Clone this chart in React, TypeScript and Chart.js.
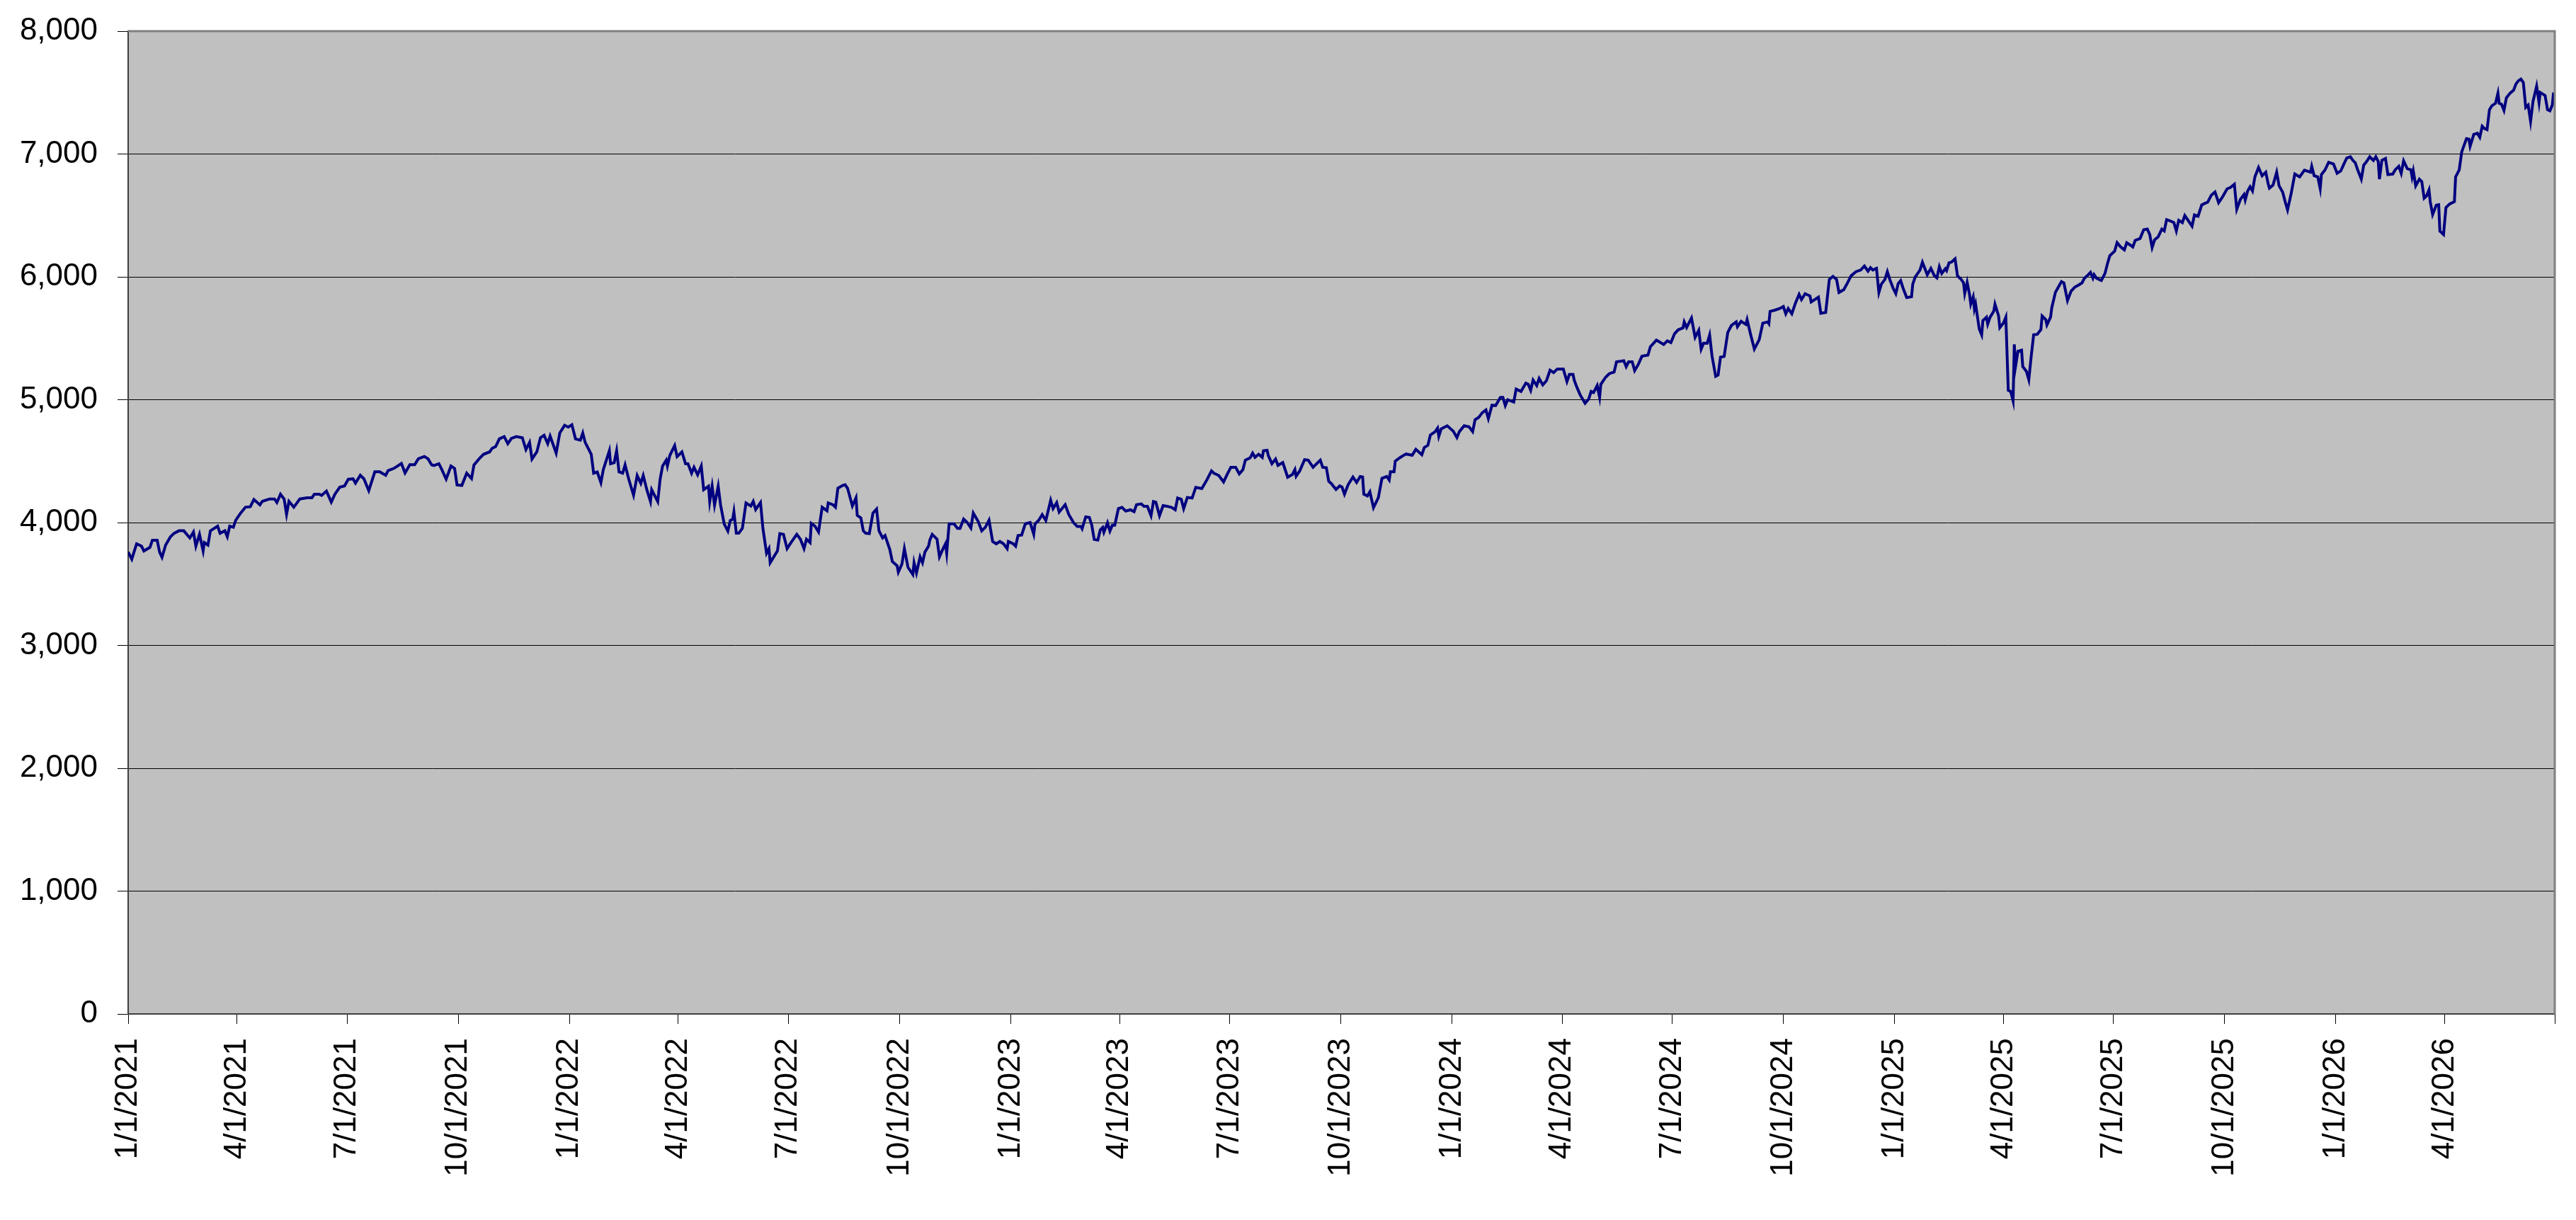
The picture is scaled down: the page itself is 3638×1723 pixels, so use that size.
import React, { useEffect, useRef } from "react";
import { Chart, registerables } from "chart.js";

Chart.register(...registerables);

const FONT = "'Liberation Sans', Arial, Helvetica, sans-serif";

// closing values, dates as "MM-DD" inside each year
const days2021 = [
  "01-01", "01-04", "01-08", "01-12", "01-14", "01-19", "01-21", "01-25", "01-27", "01-29",
  "02-01", "02-05", "02-08", "02-12", "02-16", "02-21", "02-24", "02-26",
  "03-01", "03-04", "03-05", "03-08", "03-10", "03-16", "03-18", "03-22", "03-24", "03-26", "03-29", "03-31",
  "04-04", "04-08", "04-12", "04-15", "04-20", "04-22", "04-28",
  "05-02", "05-04", "05-07", "05-10", "05-12", "05-14", "05-18", "05-23", "05-29",
  "06-02", "06-04", "06-08", "06-10", "06-14", "06-18", "06-21", "06-25", "06-29",
  "07-02", "07-06", "07-08", "07-12", "07-15", "07-19", "07-24", "07-28",
  "08-02", "08-04", "08-09", "08-15", "08-18", "08-22", "08-26", "08-29",
  "09-03", "09-06", "09-09", "09-11", "09-15", "09-17", "09-21", "09-25", "09-28", "09-30",
  "10-04", "10-08", "10-12", "10-14", "10-19", "10-22", "10-27", "10-29",
  "11-01", "11-04", "11-08", "11-11", "11-14", "11-18", "11-23", "11-26", "11-29",
  "12-01", "12-05", "12-08", "12-11", "12-14", "12-16", "12-21", "12-24", "12-28", "12-31",
];
const close2021 = [
  3760, 3702, 3827, 3808, 3769, 3798, 3856, 3856, 3760, 3717,
  3817, 3885, 3913, 3933, 3933, 3875, 3923, 3808,
  3904, 3769, 3837, 3817, 3933, 3971, 3913, 3933, 3885, 3971, 3962, 4019,
  4077, 4125, 4129, 4187, 4144, 4173, 4192,
  4192, 4163, 4231, 4192, 4067, 4173, 4125, 4192, 4202,
  4202, 4231, 4231, 4221, 4256, 4167, 4231, 4288, 4298,
  4352, 4356, 4321, 4385, 4356, 4260, 4413, 4413,
  4385, 4423, 4442, 4481, 4404, 4471, 4471, 4519,
  4538, 4519, 4470, 4465, 4479, 4440, 4354, 4460, 4440, 4306,
  4302, 4402, 4358, 4469, 4527, 4556, 4575, 4604,
  4619, 4681, 4700, 4642, 4685, 4700, 4690, 4594, 4652,
  4517, 4575, 4690, 4710, 4642, 4704, 4565, 4729, 4792, 4777,
];

const days2022 = [
  "01-03", "01-06", "01-10", "01-12", "01-14", "01-19", "01-21", "01-24", "01-27", "01-29",
  "02-03", "02-04", "02-07", "02-09", "02-11", "02-14", "02-16", "02-19", "02-23", "02-26",
  "03-01", "03-03", "03-06", "03-09", "03-10", "03-15", "03-17", "03-19", "03-22", "03-23", "03-25", "03-29", "03-31",
  "04-04", "04-07", "04-09", "04-12", "04-14", "04-17", "04-20", "04-22", "04-26", "04-27", "04-29",
  "05-01", "05-04", "05-06", "05-09", "05-12", "05-14", "05-16", "05-17", "05-19", "05-21", "05-24", "05-27", "05-31",
  "06-02", "06-04", "06-08", "06-10", "06-13", "06-15", "06-16", "06-19", "06-22", "06-24", "06-27", "06-30",
  "07-03", "07-08", "07-11", "07-14", "07-16", "07-19", "07-20", "07-23", "07-26", "07-29",
  "08-02", "08-03", "08-07", "08-09", "08-11", "08-15", "08-17", "08-19", "08-23", "08-26", "08-27", "08-30",
  "09-01", "09-03", "09-06", "09-09", "09-12", "09-14", "09-17", "09-19", "09-23", "09-25", "09-29", "09-30",
  "10-03", "10-05", "10-08", "10-12", "10-13", "10-15", "10-18", "10-20", "10-22", "10-25", "10-26", "10-28",
  "11-01", "11-03", "11-06", "11-08", "11-09", "11-11", "11-15", "11-18", "11-20", "11-23", "11-26", "11-29",
  "12-01", "12-05", "12-08", "12-11", "12-14", "12-17", "12-20", "12-23", "12-26", "12-29", "12-30",
];
const close2022 = [
  4796, 4681, 4671, 4729, 4652, 4556, 4402, 4412, 4325, 4431,
  4585, 4479, 4488, 4585, 4412, 4402, 4469, 4354, 4223, 4383,
  4319, 4383, 4267, 4171, 4267, 4171, 4354, 4460, 4508, 4460, 4546, 4627, 4537,
  4575, 4479, 4479, 4402, 4450, 4388, 4460, 4267, 4296, 4171, 4296,
  4142, 4296, 4142, 3988, 3931, 4017, 4027, 4087, 3913, 3913, 3952, 4160, 4135,
  4173, 4106, 4163, 3952, 3750, 3788, 3673, 3721, 3769, 3910, 3904, 3788,
  3833, 3904, 3865, 3788, 3865, 3837, 3994, 3971, 3923, 4125,
  4096, 4160, 4144, 4125, 4279, 4302, 4308, 4279, 4135, 4202, 4058, 4038,
  3933, 3913, 3910, 4077, 4110, 3933, 3875, 3894, 3779, 3683, 3648, 3596,
  3663, 3788, 3635, 3577, 3673, 3590, 3721, 3673, 3760, 3808, 3856, 3904,
  3865, 3721, 3788, 3827, 3750, 3990, 3990, 3952, 3952, 4029, 4000, 3956,
  4077, 4010, 3933, 3962, 4019, 3846, 3827, 3846, 3827, 3788, 3846,
];

const days2023 = [
  "01-03", "01-05", "01-07", "01-10", "01-13", "01-17", "01-20", "01-21", "01-24", "01-27", "01-30",
  "02-03", "02-05", "02-08", "02-10", "02-15", "02-18", "02-22", "02-25", "02-28",
  "03-01", "03-04", "03-07", "03-09", "03-11", "03-14", "03-16", "03-18", "03-19", "03-22", "03-24", "03-26", "03-28", "03-31",
  "04-03", "04-06", "04-10", "04-13", "04-15", "04-19", "04-21", "04-24", "04-27", "04-29",
  "05-01", "05-04", "05-07", "05-10", "05-14", "05-17", "05-19", "05-22", "05-24", "05-27", "05-31",
  "06-03", "06-08", "06-12", "06-16", "06-18", "06-22", "06-26", "06-29",
  "07-02", "07-06", "07-09", "07-12", "07-14", "07-18", "07-20", "07-22", "07-25", "07-28", "07-29",
  "08-01", "08-02", "08-05", "08-08", "08-10", "08-14", "08-18", "08-22", "08-24", "08-25", "08-28",
  "09-01", "09-04", "09-08", "09-11", "09-14", "09-16", "09-19", "09-21", "09-23", "09-27", "09-30",
  "10-02", "10-04", "10-07", "10-11", "10-14", "10-17", "10-19", "10-20", "10-23", "10-25", "10-28",
  "11-01", "11-04", "11-08", "11-10", "11-11", "11-14", "11-15", "11-19", "11-22", "11-24", "11-29",
  "12-02", "12-07", "12-09", "12-12", "12-14", "12-18", "12-20", "12-21", "12-23", "12-28",
];
const close2023 = [
  3827, 3808, 3894, 3898, 3990, 4000, 3904, 3988, 4017, 4065, 4017,
  4181, 4113, 4162, 4085, 4146, 4065, 3998, 3969, 3969,
  3950, 4046, 4042, 3979, 3863, 3858, 3940, 3960, 3921, 3998, 3931, 3979, 3979, 4113,
  4123, 4094, 4104, 4088, 4146, 4152, 4133, 4133, 4056, 4171,
  4165, 4056, 4138, 4133, 4123, 4104, 4200, 4190, 4113, 4204, 4200,
  4287, 4277, 4344, 4421, 4402, 4383, 4331, 4392,
  4450, 4450, 4396, 4431, 4508, 4527, 4565, 4531, 4556, 4531, 4585,
  4588, 4546, 4479, 4517, 4465, 4488, 4369, 4392, 4431, 4377, 4421,
  4512, 4508, 4450, 4479, 4508, 4450, 4446, 4335, 4319, 4269, 4298,
  4288, 4231, 4308, 4371, 4327, 4375, 4371, 4231, 4217, 4250, 4121,
  4202, 4360, 4375, 4346, 4413, 4413, 4500, 4529, 4548, 4558, 4548,
  4596, 4552, 4610, 4629, 4712, 4740, 4769, 4702, 4763, 4788,
];

const days2024 = [
  "01-02", "01-05", "01-07", "01-11", "01-15", "01-18", "01-20", "01-23", "01-26", "01-29", "01-31",
  "02-03", "02-06", "02-10", "02-12", "02-14", "02-16", "02-21", "02-23", "02-27",
  "03-02", "03-04", "03-06", "03-08", "03-11", "03-13", "03-16", "03-19", "03-22", "03-25", "03-28",
  "04-02", "04-05", "04-07", "04-10", "04-11", "04-13", "04-16", "04-20", "04-23", "04-25", "04-27", "04-30",
  "05-02", "05-03", "05-07", "05-10", "05-14", "05-16", "05-22", "05-24", "05-26", "05-29", "05-31",
  "06-03", "06-06", "06-11", "06-13", "06-18", "06-24", "06-27", "06-30",
  "07-03", "07-06", "07-10", "07-11", "07-13", "07-17", "07-20", "07-23", "07-25", "07-27", "07-30",
  "08-01", "08-03", "08-06", "08-08", "08-10", "08-13", "08-16", "08-19", "08-23", "08-24", "08-27", "08-31",
  "09-01", "09-04", "09-07", "09-09", "09-11", "09-14", "09-18", "09-19", "09-20", "09-24", "09-28",
  "10-01", "10-03", "10-05", "10-08", "10-11", "10-14", "10-16", "10-19", "10-23", "10-24", "10-30",
  "11-01", "11-05", "11-08", "11-11", "11-14", "11-16", "11-20", "11-23", "11-26", "11-30",
  "12-04", "12-07", "12-10", "12-12", "12-14", "12-17", "12-19", "12-21", "12-24", "12-26", "12-28", "12-31",
];
const close2024 = [
  4744, 4692, 4740, 4788, 4779, 4740, 4837, 4856, 4894, 4917, 4846,
  4956, 4952, 5019, 5019, 4952, 5000, 4981, 5087, 5067,
  5135, 5125, 5077, 5160, 5115, 5173, 5121, 5154, 5240, 5221, 5250,
  5250, 5148, 5206, 5206, 5160, 5106, 5038, 4971, 5006, 5067, 5058, 5115,
  5019, 5125, 5183, 5212, 5225, 5308, 5317, 5269, 5308, 5308, 5237,
  5287, 5354, 5363, 5431, 5485, 5450, 5479, 5465,
  5537, 5569, 5585, 5633, 5588, 5665, 5508, 5565, 5412, 5460, 5460,
  5527, 5354, 5190, 5200, 5346, 5352, 5547, 5604, 5633, 5594, 5638, 5613,
  5652, 5527, 5412, 5450, 5488, 5623, 5633, 5619, 5719, 5729, 5742,
  5758, 5700, 5742, 5700, 5787, 5858, 5815, 5863, 5844, 5796, 5835,
  5704, 5710, 5979, 6004, 5979, 5873, 5896, 5950, 6008, 6042,
  6056, 6088, 6046, 6075, 6056, 6069, 5873, 5940, 5979, 6042, 5979, 5902,
];

const days2025 = [
  "01-02", "01-04", "01-06", "01-08", "01-11", "01-15", "01-16", "01-18", "01-22", "01-24", "01-28", "01-31",
  "02-03", "02-05", "02-07", "02-09", "02-12", "02-13", "02-15", "02-17", "02-20", "02-22", "02-25", "02-27", "02-28",
  "03-02", "03-04", "03-05", "03-07", "03-08", "03-09", "03-12", "03-14", "03-15", "03-18", "03-19", "03-21", "03-24", "03-25", "03-28", "03-29",
  "04-01", "04-03", "04-05", "04-07", "04-09", "04-10", "04-11", "04-13", "04-16", "04-17", "04-20", "04-22", "04-24", "04-26", "04-29",
  "05-02", "05-03", "05-06", "05-07", "05-10", "05-11", "05-14", "05-16", "05-19", "05-21", "05-24", "05-27", "05-30",
  "06-02", "06-05", "06-07", "06-09", "06-12", "06-14", "06-15", "06-17", "06-21", "06-24", "06-26", "06-28",
  "07-02", "07-04", "07-07", "07-10", "07-12", "07-15", "07-17", "07-19", "07-23", "07-26", "07-29", "07-31",
  "08-02", "08-04", "08-07", "08-10", "08-12", "08-14", "08-18", "08-20", "08-22", "08-24", "08-27", "08-29",
  "09-02", "09-04", "09-06", "09-09", "09-12", "09-15", "09-17", "09-20", "09-23", "09-26", "09-29",
  "10-03", "10-06", "10-09", "10-11", "10-14", "10-17", "10-18", "10-20", "10-22", "10-24", "10-26", "10-29",
  "11-01", "11-04", "11-06", "11-07", "11-10", "11-13", "11-15", "11-18", "11-20", "11-22", "11-25", "11-28",
  "12-02", "12-06", "12-11", "12-12", "12-14", "12-17", "12-19", "12-20", "12-23", "12-26", "12-30",
];
const close2025 = [
  5863, 5946, 5969, 5908, 5831, 5838, 5940, 5998, 6056, 6119, 6017, 6069,
  6008, 5992, 6082, 6028, 6066, 6051, 6115, 6120, 6147, 6009, 5980, 5951, 5865,
  5955, 5855, 5778, 5836, 5740, 5778, 5576, 5528, 5644, 5672, 5615, 5672, 5720, 5778, 5682, 5586,
  5624, 5672, 5077, 5067, 4990, 5451, 5269, 5394, 5403, 5269, 5231, 5163, 5355, 5528, 5532,
  5571, 5682, 5653, 5609, 5672, 5749, 5874, 5909, 5961, 5951, 5807, 5884, 5916,
  5932, 5951, 5989, 6005, 6037, 5989, 6018, 5989, 5970, 6028, 6105, 6172,
  6210, 6278, 6243, 6220, 6278, 6258, 6243, 6297, 6312, 6383, 6389, 6345,
  6239, 6301, 6326, 6389, 6374, 6466, 6451, 6441, 6374, 6460, 6441, 6499,
  6441, 6412, 6504, 6493, 6585, 6600, 6608, 6666, 6691, 6604, 6647,
  6716, 6729, 6754, 6550, 6631, 6670, 6626, 6699, 6733, 6699, 6814, 6891,
  6823, 6852, 6756, 6722, 6747, 6852, 6741, 6689, 6612, 6545, 6679, 6837,
  6814, 6868, 6852, 6900, 6823, 6814, 6718, 6833, 6871, 6933, 6919,
];

const days2026 = [
  "01-02", "01-05", "01-07", "01-09", "01-10", "01-13", "01-15", "01-17", "01-19", "01-22", "01-24", "01-26", "01-29",
  "02-01", "02-03", "02-05", "02-06", "02-08", "02-11", "02-13", "02-17", "02-19", "02-22", "02-24", "02-26",
  "03-01", "03-04", "03-05", "03-06", "03-08", "03-11", "03-13", "03-15", "03-17", "03-19", "03-20", "03-22", "03-25", "03-27", "03-28", "03-31",
  "04-02", "04-05", "04-09", "04-10", "04-13", "04-15", "04-16", "04-19", "04-21", "04-22", "04-25", "04-28", "04-30",
  "05-02", "05-04", "05-06", "05-08", "05-10", "05-13", "05-15", "05-16", "05-18", "05-20", "05-22", "05-25", "05-28", "05-30",
  "06-01", "06-03", "06-05", "06-07", "06-09", "06-11", "06-13", "06-16", "06-18", "06-19", "06-23", "06-25", "06-27", "06-29", "06-30",
];
const close2026 = [
  6843, 6862, 6906, 6948, 6967, 6977, 6948, 6929, 6871, 6795, 6910, 6933, 6977,
  6948, 6977, 6939, 6795, 6948, 6964, 6833, 6837, 6871, 6900, 6843, 6944,
  6881, 6871, 6814, 6862, 6741, 6795, 6775, 6641, 6660, 6708, 6612, 6507, 6583, 6587, 6372, 6344,
  6564, 6593, 6612, 6814, 6871, 7015, 7044, 7125, 7121, 7063, 7159, 7169, 7136,
  7226, 7207, 7198, 7361, 7393, 7413, 7495, 7413, 7405, 7355, 7457, 7495, 7520, 7572,
  7597, 7610, 7582, 7380, 7399, 7265, 7428, 7553, 7418, 7501, 7476, 7361, 7351, 7399, 7501,
];

const tickLabels = [
  "1/1/2021", "4/1/2021", "7/1/2021", "10/1/2021",
  "1/1/2022", "4/1/2022", "7/1/2022", "10/1/2022",
  "1/1/2023", "4/1/2023", "7/1/2023", "10/1/2023",
  "1/1/2024", "4/1/2024", "7/1/2024", "10/1/2024",
  "1/1/2025", "4/1/2025", "7/1/2025", "10/1/2025",
  "1/1/2026", "4/1/2026",
];
const axisEnd = "7/1/2026";

const Y_MIN = 0;
const Y_MAX = 8000;
const Y_STEP = 1000;

const BASE = Date.UTC(2021, 0, 1);
const dayNum = (y: number, m: number, d: number) => (Date.UTC(y, m - 1, d) - BASE) / 86400000;
const fromLabel = (s: string) => {
  const [m, d, y] = s.split("/").map(Number);
  return dayNum(y, m, d);
};

const years: [number, string[], number[]][] = [
  [2021, days2021, close2021],
  [2022, days2022, close2022],
  [2023, days2023, close2023],
  [2024, days2024, close2024],
  [2025, days2025, close2025],
  [2026, days2026, close2026],
];

const plotFrame = {
  id: "plotFrame",
  beforeDraw(chart: any) {
    const { ctx, chartArea: a } = chart;
    ctx.save();
    ctx.fillStyle = "#C0C0C0";
    ctx.fillRect(a.left, a.top, a.right - a.left, a.bottom - a.top);
    ctx.restore();
  },
  afterDatasetsDraw(chart: any) {
    const { ctx, chartArea: a } = chart;
    ctx.save();
    ctx.strokeStyle = "#808080";
    ctx.lineWidth = 3;
    ctx.beginPath();
    ctx.moveTo(a.left, a.top);
    ctx.lineTo(a.right, a.top);
    ctx.lineTo(a.right, a.bottom);
    ctx.stroke();
    ctx.restore();
  },
};

export default function App() {
  const canvasRef = useRef<HTMLCanvasElement>(null);
  const chartRef = useRef<Chart | null>(null);

  useEffect(() => {
    if (!canvasRef.current) return;
    if (chartRef.current) chartRef.current.destroy();

    const points = years.flatMap(([yr, days, vals]) =>
      days.map((md, i) => {
        const [m, d] = md.split("-").map(Number);
        return { x: dayNum(yr, m, d), y: vals[i] };
      })
    );
    const tickValues = [...tickLabels, axisEnd].map(fromLabel);

    chartRef.current = new Chart(canvasRef.current, {
      type: "line",
      data: {
        datasets: [
          {
            data: points,
            borderColor: "#000080",
            borderWidth: 4,
            pointRadius: 0,
            fill: false,
            tension: 0,
          },
        ],
      },
      options: {
        responsive: true,
        maintainAspectRatio: false,
        animation: false,
        layout: { padding: { top: 44, right: 30, left: 0, bottom: 0 } },
        plugins: { legend: { display: false }, tooltip: { enabled: false } },
        scales: {
          x: {
            type: "linear",
            min: 0,
            max: fromLabel(axisEnd),
            afterBuildTicks: (scale: any) => {
              scale.ticks = tickValues.map((v) => ({ value: v }));
            },
            afterFit: (scale: any) => {
              scale.height = 291;
              scale.paddingLeft = 0;
              scale.paddingRight = 0;
            },
            ticks: {
              autoSkip: false,
              minRotation: 90,
              maxRotation: 90,
              padding: 20,
              color: "#000",
              font: { family: FONT, size: 44 },
              callback: (_v: any, i: number) => tickLabels[i] ?? "",
            },
            grid: {
              drawOnChartArea: false,
              drawTicks: true,
              tickLength: 14,
              color: "#000",
              lineWidth: 1,
            },
            border: { color: "#404040", width: 2 },
          },
          y: {
            min: Y_MIN,
            max: Y_MAX,
            afterFit: (scale: any) => {
              scale.width = 181;
              scale.paddingTop = 0;
              scale.paddingBottom = 0;
            },
            ticks: {
              stepSize: Y_STEP,
              padding: 28,
              color: "#000",
              font: { family: FONT, size: 44 },
              callback: (v: any) => Number(v).toLocaleString("en-US"),
            },
            grid: {
              color: "#000",
              lineWidth: 1,
              tickLength: 15,
            },
            border: { color: "#404040", width: 2 },
          },
        },
      },
      plugins: [plotFrame],
    });

    return () => {
      if (chartRef.current) {
        chartRef.current.destroy();
        chartRef.current = null;
      }
    };
  }, []);

  return (
    <div style={{ position: "fixed", left: 0, top: 0, width: "100vw", height: "100vh", background: "#fff" }}>
      <canvas ref={canvasRef}></canvas>
    </div>
  );
}
